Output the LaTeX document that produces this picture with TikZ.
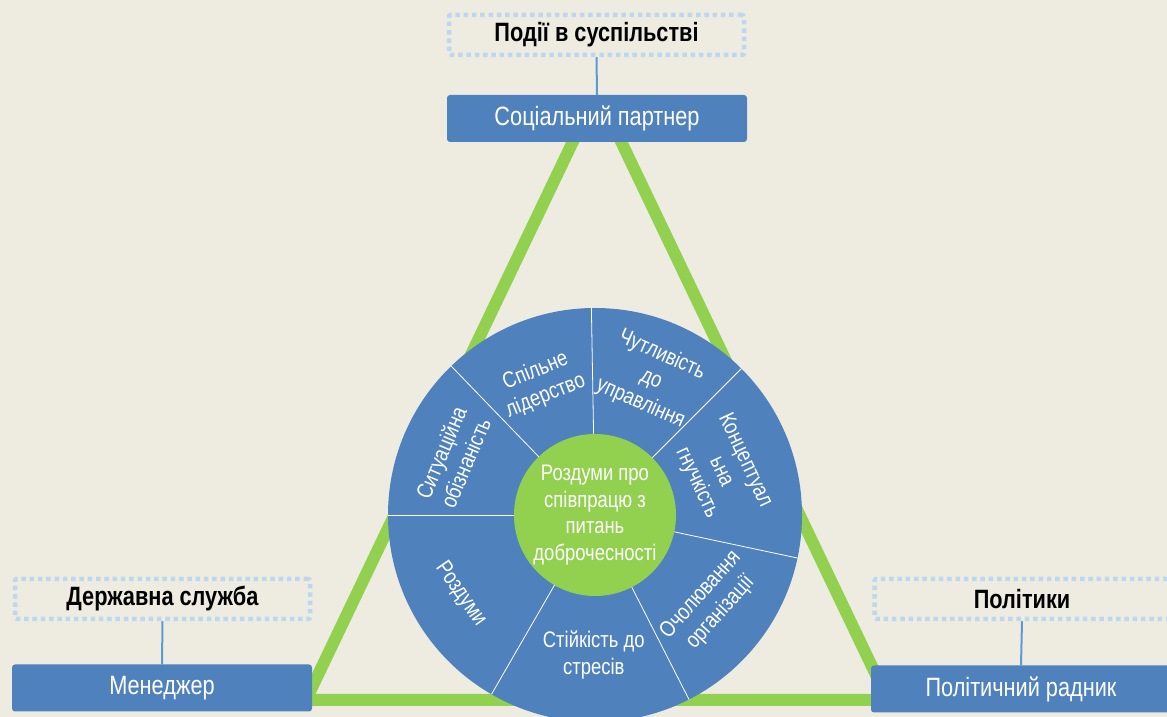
\documentclass[tikz,border=0pt]{standalone}
\usepackage{fontspec}
\setmainfont{Liberation Sans}[FakeStretch=0.82]
\definecolor{paper}{RGB}{238,236,225}
\definecolor{boxblue}{RGB}{79,129,189}
\definecolor{dotblue}{RGB}{189,215,238}
\definecolor{linkblue}{RGB}{91,155,213}
\definecolor{leaf}{RGB}{146,208,80}
\begin{document}
\begin{tikzpicture}[x=1pt,y=1pt,
  rolebox/.style={fill=boxblue, rounded corners=3pt, minimum width=300pt,
    minimum height=47pt, inner sep=0pt, text=white,
    font=\fontsize{26.5}{31}\selectfont},
  fieldbox/.style={draw=dotblue, line width=4.5pt, dash pattern=on 4.5pt off 3.8pt,
    rounded corners=2pt, minimum width=295pt, minimum height=40pt, inner sep=0pt,
    font=\bfseries\fontsize{26.5}{31}\selectfont},
  link/.style={draw=linkblue, line width=2pt},
  edge/.style={draw=leaf, line width=12pt, line join=miter},
  divider/.style={draw=white, line width=0.8pt},
  sector/.style={text=white, align=center, inner sep=0pt,
    font=\fontsize{22.5}{26.5}\selectfont},
]
\path[use as bounding box, fill=paper] (0,0) rectangle (1167,717);
\clip (0,0) rectangle (1167,717);

% green triangle behind everything; its top ends hidden under the partner box
\coordinate (ltop) at (588,607);
\coordinate (rtop) at (606,607);
\coordinate (left) at (306,17);
\coordinate (right) at (888,17);
\draw[edge] (ltop) -- (left) -- (right) -- (rtop);

% wheel
\coordinate (hub) at (595,202);
\fill[boxblue] (hub) circle (207);
\foreach \a in {180,134,91,45,-12,-63,-120}
  \draw[divider, shift={(hub)}] (\a:80) -- (\a:207);
\node[circle, fill=leaf, minimum size=162pt, inner sep=0pt, sector] (core) at (hub)
  {Роздуми про\\співпрацю з\\питань\\доброчесності};

\node[sector, rotate=67]  (s1) at ([shift={(158:153)}]hub) {Ситуаційна\\обізнаність};
\node[sector, rotate=22]  (s2) at ([shift={(112.5:142)}]hub) {Спільне\\лідерство};
\node[sector, rotate=-24] (s3) at ([shift={(67.5:147)}]hub) {Чутливість\\до\\управління};
\node[sector, rotate=-65] (s4) at ([shift={(19:133)}]hub) {Концептуал\\ьна\\гнучкість};
\node[sector, rotate=48]  (s5) at ([shift={(-37.5:146)}]hub) {Очолювання\\організації};
\node[sector]             (s6) at ([shift={(-90.5:140)}]hub) {Стійкість до\\стресів};
\node[sector, rotate=-55] (s7) at ([shift={(210.5:156)}]hub) {Роздуми};

% roles and their fields
\node[rolebox]  (partner) at (597,598.5) {Соціальний партнер};
\node[fieldbox] (society) at (596.5,682) {Події в суспільстві};
\draw[link] (society.south) -- (partner.north);

\node[rolebox]  (manager) at (162,29) {Менеджер};
\node[fieldbox] (service) at (162.5,118) {Державна служба};
\draw[link] (service.south) -- (manager.north);

\node[rolebox]  (adviser) at (1021,28) {Політичний радник};
\node[fieldbox] (politics) at (1022,118) {Політики};
\draw[link] (politics.south) -- (adviser.north);
\end{tikzpicture}
\end{document}
